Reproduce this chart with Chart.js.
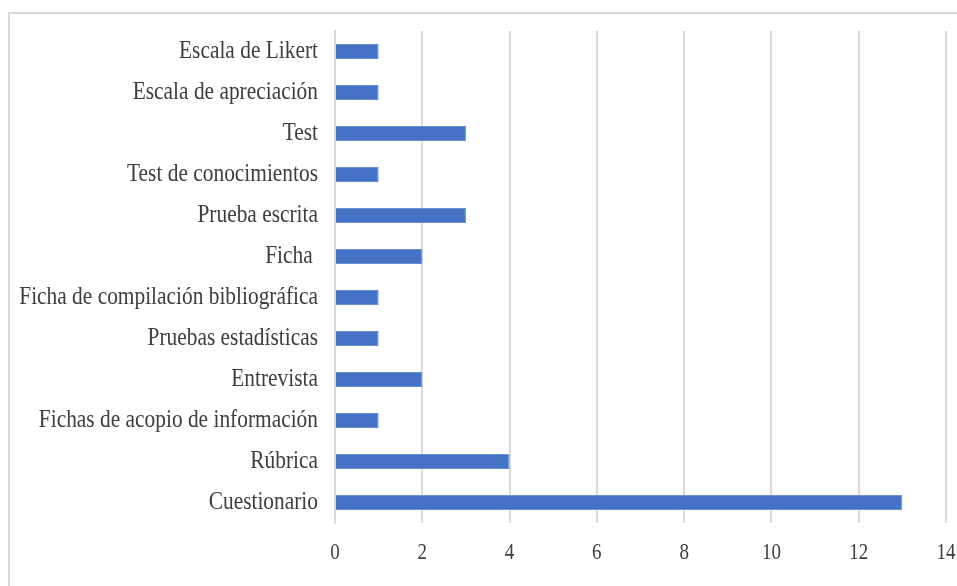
<!DOCTYPE html>
<html>
<head>
<meta charset="utf-8">
<script src="https://cdn.jsdelivr.net/npm/chart.js@4/dist/chart.umd.min.js"></script>
<style>
  html, body { margin: 0; padding: 0; background: #fff; }
  #wrap { position: relative; width: 957px; height: 586px; overflow: hidden; }
  #frame { position: absolute; left: 8px; top: 12px; width: 1000px; height: 700px;
           border-left: 2px solid #d9d9d9; border-top: 2px solid #d9d9d9; box-sizing: border-box; }
  #c { position: absolute; left: 0; top: 0; }
</style>
</head>
<body>
<div id="wrap">
  <div id="frame"></div>
  <canvas id="c" width="957" height="586"></canvas>
</div>
<script>
// Instrument categories, top to bottom
const categories = [
  'Escala de Likert',
  'Escala de apreciación',
  'Test',
  'Test de conocimientos',
  'Prueba escrita',
  'Ficha ',
  'Ficha de compilación bibliográfica',
  'Pruebas estadísticas',
  'Entrevista',
  'Fichas de acopio de información',
  'Rúbrica',
  'Cuestionario'
];
// Number of studies using each instrument
const counts = [1, 1, 3, 1, 3, 2, 1, 1, 2, 1, 4, 13];
// Value axis range
const axisMin = 0;
const axisMax = 14;
const axisStep = 2;

const textColor = '#3d3d3d';
const gridColor = '#d9d9d9';
const fontFamily = '"Liberation Serif", "Times New Roman", serif';

// Draws the axis labels in a slightly tall, narrow serif face,
// positioned from each scale's own tick pixels.
const tallLabels = {
  id: 'tallLabels',
  afterDraw(chart) {
    const ctx = chart.ctx;
    const xs = chart.scales.x;
    const ys = chart.scales.y;
    ctx.save();
    ctx.fillStyle = textColor;
    ctx.textBaseline = 'middle';

    // category labels
    ctx.font = '21.4px ' + fontFamily;
    ctx.textAlign = 'right';
    ys.ticks.forEach((t, i) => {
      const y = ys.getPixelForTick(i);
      ctx.save();
      ctx.translate(ys.right - 17, y);
      ctx.scale(1, 1.14);
      ctx.fillText(ys.getLabelForValue(t.value), 0, 0);
      ctx.restore();
    });

    // value labels
    ctx.font = '19px ' + fontFamily;
    ctx.textAlign = 'center';
    xs.ticks.forEach((t, i) => {
      const x = xs.getPixelForTick(i);
      ctx.save();
      ctx.translate(x, xs.top + 30);
      ctx.scale(1, 1.22);
      ctx.fillText(String(t.value), 0, 0);
      ctx.restore();
    });
    ctx.restore();
  }
};

new Chart(document.getElementById('c'), {
  type: 'bar',
  data: {
    labels: categories,
    datasets: [{
      data: counts,
      backgroundColor: '#4472c4',
      borderColor: '#6a8fd2',
      borderWidth: 1,
      categoryPercentage: 1,
      barPercentage: 0.37
    }]
  },
  options: {
    indexAxis: 'y',
    responsive: false,
    animation: false,
    layout: { padding: { left: 0, top: 31, right: 11, bottom: 23 } },
    plugins: { legend: { display: false }, tooltip: { enabled: false } },
    scales: {
      x: {
        min: axisMin,
        max: axisMax,
        ticks: { display: false, stepSize: axisStep },
        grid: { color: gridColor, lineWidth: 2, drawTicks: false },
        border: { display: false },
        afterFit(scale) { scale.height = 40; scale.paddingLeft = 0; scale.paddingRight = 0; }
      },
      y: {
        ticks: { display: false, autoSkip: false },
        grid: { display: false, drawTicks: false },
        border: { display: true, color: gridColor, width: 2 },
        afterFit(scale) { scale.width = 335; }
      }
    }
  },
  plugins: [tallLabels]
});
</script>
</body>
</html>
